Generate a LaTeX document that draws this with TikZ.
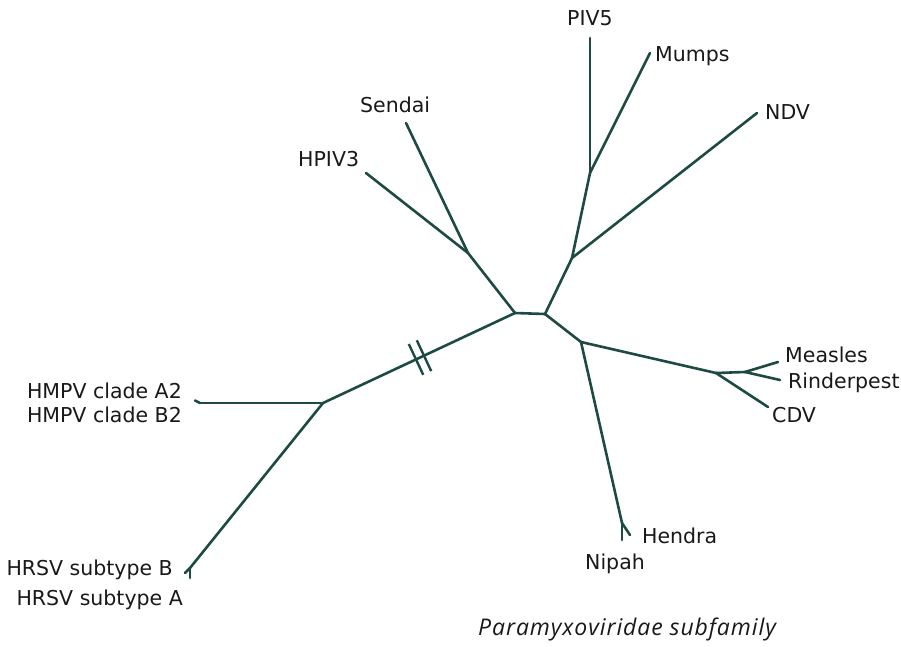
\documentclass[tikz,border=0pt]{standalone}
\usepackage{fontspec}
\setmainfont{DejaVu Sans}
\newfontfamily\capfont[LetterSpace=4]{Open Sans}
\usetikzlibrary{calc}
\definecolor{branch}{RGB}{30,74,68}
\definecolor{labtext}{RGB}{25,25,25}
\tikzset{
  br/.style={draw=branch, line width=2.6pt, line join=round, line cap=round},
  brk/.style={draw=branch, line width=2.4pt},
  lab/.style={inner sep=0pt, text=labtext, font=\fontsize{20.5}{24}\selectfont},
}
\begin{document}
\begin{tikzpicture}[x=1pt,y=-1pt]
\useasboundingbox[fill=white] (0,0) rectangle (901,647);
% internal nodes
\coordinate (L) at (515,313);
\coordinate (R) at (545,314);
\coordinate (J1) at (468,253);
\coordinate (J2) at (572,258);
\coordinate (J3) at (590,173);
\coordinate (J4) at (581,342);
\coordinate (J5) at (716,373);
\coordinate (J6) at (745,372);
\coordinate (J7) at (622,523);
\coordinate (J8) at (323,403);
\coordinate (J9) at (200,403);
\coordinate (J10) at (190,568);
% tips
\coordinate (tSendai) at (406,123);
\coordinate (tHPIV) at (366,173);
\coordinate (tPIV) at (590,38);
\coordinate (tMumps) at (650,53);
\coordinate (tNDV) at (757,113);
\coordinate (tMeasles) at (778,362);
\coordinate (tRinder) at (780,380);
\coordinate (tCDV) at (768,407);
\coordinate (tHendra) at (630,535);
\coordinate (tNipah) at (622,540);
\coordinate (tHMPV) at (195,400.5);
\coordinate (tHRSVB) at (185,573);
\coordinate (tHRSVA) at (190,578);
% branches
\draw[br] (L) -- (R);
\draw[br] (L) -- (J1);
\draw[br] (J1) -- (tSendai);
\draw[br] (J1) -- (tHPIV);
\draw[br] (R) -- (J2);
\draw[br] (J2) -- (J3);
\draw[br] (J3) -- (tPIV);
\draw[br] (J3) -- (tMumps);
\draw[br] (J2) -- (tNDV);
\draw[br] (R) -- (J4);
\draw[br] (J4) -- (J5);
\draw[br] (J5) -- (J6);
\draw[br] (J6) -- (tMeasles);
\draw[br] (J6) -- (tRinder);
\draw[br] (J5) -- (tCDV);
\draw[br] (J4) -- (J7);
\draw[br] (J7) -- (tHendra);
\draw[br] (J7) -- (tNipah);
\draw[br] (L) -- (J8);
\draw[br] (J8) -- (J9);
\draw[br] (J9) -- (tHMPV);
\draw[br] (J8) -- (J10);
\draw[br] (J10) -- (tHRSVB);
\draw[br] (J10) -- (tHRSVA);
% break mark
\draw[brk] (408.8,344.0) -- (423.2,374.8);
\draw[brk] (416.8,340.3) -- (431.2,371.1);
% labels
\node[lab, anchor=base west] (nPIV) at (567,26) {PIV5};
\node[lab, anchor=base west] (nMumps) at (655,62) {Mumps};
\node[lab, anchor=base west] (nNDV) at (765,120) {NDV};
\node[lab, anchor=base west] (nSendai) at (360,113) {Sendai};
\node[lab, anchor=base west] (nHPIV) at (298,167) {HPIV3};
\node[lab, anchor=base west] (nMeasles) at (785,362) {Measles};
\node[lab, anchor=base west] (nRinder) at (788,388) {Rinderpest};
\node[lab, anchor=base west] (nCDV) at (772,422) {CDV};
\node[lab, anchor=base west] (nHendra) at (642,543) {Hendra};
\node[lab, anchor=base west] (nNipah) at (585,569) {Nipah};
\node[lab, anchor=base east] (nA2) at (182,398) {HMPV clade A2};
\node[lab, anchor=base east] (nB2) at (182,422) {HMPV clade B2};
\node[lab, anchor=base east] (nRSVB) at (173,575) {HRSV subtype B};
\node[lab, anchor=base east] (nRSVA) at (183,605) {HRSV subtype A};
\node[inner sep=0pt, text=labtext, anchor=base west, font=\capfont\itshape\fontsize{23}{27}\selectfont] (title) at (478,635) {Paramyxoviridae subfamily};
\end{tikzpicture}
\end{document}
